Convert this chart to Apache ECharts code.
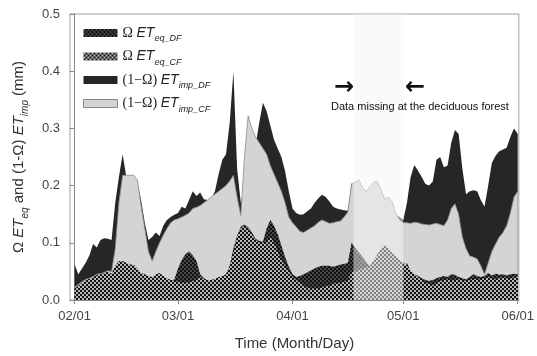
<!DOCTYPE html>
<html>
<head>
<meta charset="utf-8">
<script src="https://cdn.jsdelivr.net/npm/echarts@6/dist/echarts.min.js"></script>
<style>
  html, body { margin: 0; background: #fff; }
  #chart { width: 537px; height: 356px; }
</style>
</head>
<body>
<div id="chart"></div>
<script>
// day index: 0 = 02/01 ... 120 = 06/01
const tickDays = [0, 28, 59, 89, 120];
const tickLabels = ['02/01', '03/01', '04/01', '05/01', '06/01'];
const missingDays = [75.5, 89];   // no deciduous forest data

// Omega*ET_eq, deciduous forest (dark checker)
const eqDF = [0.02,0.024,0.029,0.034,0.036,0.039,0.043,0.044,0.046,0.049,
  0.046,0.058,0.066,0.066,0.063,0.06,0.06,0.054,0.046,0.044,
  0.041,0.039,0.044,0.046,0.041,0.037,0.034,0.036,0.055,0.07,
  0.08,0.085,0.078,0.068,0.045,0.038,0.034,0.034,0.036,0.039,
  0.041,0.044,0.06,0.09,0.112,0.128,0.132,0.127,0.118,0.107,
  0.103,0.102,0.125,0.14,0.13,0.115,0.095,0.075,0.058,0.045,
  0.04,0.042,0.045,0.048,0.052,0.055,0.058,0.06,0.06,0.06,
  0.058,0.06,0.062,0.063,0.065,0.1,0.092,0.083,0.075,0.066,
  0.058,0.055,0.052,0.05,0.048,0.046,0.045,0.043,0.042,0.041,
  0.065,0.05,0.045,0.042,0.038,0.035,0.033,0.035,0.038,0.04,
  0.042,0.04,0.045,0.044,0.04,0.038,0.036,0.04,0.045,0.042,
  0.04,0.042,0.047,0.043,0.046,0.044,0.045,0.043,0.045,0.046,0.045];

// Omega*ET_eq, coniferous forest (light checker)
const eqCF = [0.02,0.025,0.03,0.035,0.037,0.04,0.044,0.045,0.047,0.05,
  0.045,0.06,0.068,0.068,0.065,0.062,0.062,0.055,0.047,0.045,
  0.042,0.04,0.045,0.047,0.042,0.038,0.035,0.033,0.032,0.03,
  0.03,0.031,0.033,0.035,0.04,0.036,0.035,0.035,0.037,0.04,
  0.042,0.045,0.058,0.085,0.11,0.125,0.13,0.125,0.115,0.105,
  0.1,0.1,0.1,0.11,0.1,0.085,0.07,0.06,0.05,0.04,
  0.035,0.03,0.025,0.022,0.02,0.02,0.02,0.022,0.025,0.025,
  0.028,0.03,0.03,0.032,0.035,0.05,0.05,0.052,0.055,0.057,
  0.06,0.07,0.08,0.09,0.096,0.09,0.082,0.076,0.07,0.066,
  0.06,0.052,0.045,0.04,0.035,0.03,0.028,0.026,0.03,0.033,
  0.035,0.036,0.034,0.035,0.036,0.034,0.033,0.035,0.037,0.035,
  0.036,0.038,0.04,0.037,0.036,0.038,0.04,0.038,0.037,0.04,0.04];

// top of the (1-Omega)*ET_imp layer, deciduous forest (black)
const impDFTop = [0.062,0.045,0.055,0.065,0.078,0.098,0.092,0.105,0.108,0.107,
  0.105,0.17,0.215,0.255,0.215,0.21,0.21,0.205,0.175,0.135,
  0.105,0.11,0.118,0.112,0.13,0.14,0.145,0.149,0.152,0.163,
  0.16,0.175,0.19,0.182,0.188,0.176,0.175,0.176,0.19,0.22,
  0.245,0.255,0.31,0.40,0.23,0.17,0.2,0.22,0.245,0.27,
  0.31,0.345,0.33,0.305,0.28,0.265,0.25,0.225,0.19,0.16,
  0.152,0.149,0.15,0.155,0.16,0.17,0.178,0.184,0.18,0.172,
  0.163,0.16,0.158,0.157,0.156,0.204,0.199,0.195,0.19,0.186,
  0.181,0.176,0.172,0.167,0.163,0.158,0.154,0.149,0.145,0.14,
  0.17,0.215,0.236,0.226,0.215,0.203,0.2,0.207,0.245,0.25,
  0.232,0.235,0.275,0.297,0.29,0.23,0.185,0.19,0.192,0.19,
  0.175,0.163,0.2,0.24,0.252,0.26,0.263,0.266,0.285,0.3,0.29];

// top of the (1-Omega)*ET_imp layer, coniferous forest (light grey)
const impCFTop = [0.022,0.027,0.032,0.036,0.038,0.041,0.045,0.046,0.048,0.051,
  0.05,0.09,0.17,0.218,0.218,0.218,0.218,0.21,0.165,0.125,
  0.085,0.068,0.085,0.1,0.113,0.125,0.135,0.14,0.142,0.145,
  0.148,0.152,0.16,0.162,0.165,0.17,0.175,0.18,0.185,0.19,
  0.195,0.2,0.208,0.218,0.18,0.148,0.25,0.322,0.3,0.285,
  0.275,0.265,0.255,0.235,0.22,0.205,0.19,0.17,0.145,0.135,
  0.128,0.12,0.118,0.122,0.126,0.13,0.136,0.14,0.137,0.134,
  0.135,0.137,0.138,0.145,0.154,0.202,0.206,0.21,0.196,0.19,
  0.198,0.206,0.207,0.192,0.176,0.18,0.172,0.15,0.14,0.135,
  0.135,0.134,0.136,0.135,0.133,0.132,0.131,0.133,0.134,0.132,
  0.13,0.14,0.16,0.168,0.15,0.11,0.09,0.077,0.075,0.072,
  0.06,0.045,0.065,0.085,0.098,0.11,0.118,0.13,0.152,0.18,0.19];

function checker(bg, dot) {
  const c = document.createElement('canvas');
  c.width = 4; c.height = 4;
  const ctx = c.getContext('2d');
  ctx.fillStyle = bg; ctx.fillRect(0, 0, 4, 4);
  ctx.fillStyle = dot; ctx.fillRect(0, 0, 2, 2); ctx.fillRect(2, 2, 2, 2);
  return { image: c, repeat: 'repeat' };
}
const darkChecker = checker('#111', '#474747');
const lightChecker = checker('#111', '#b8b8b8');

const pairs = arr => arr.map((v, i) => [i, v]);

function area(name, values, fill, line) {
  return {
    name: name,
    type: 'line',
    data: pairs(values),
    symbol: 'none',
    itemStyle: { color: fill },
    lineStyle: line || { width: 0 },
    areaStyle: { color: fill, opacity: 1 },
    silent: true
  };
}

const legendNames = {
  eqDF: '{o|Ω} {et|ET}{sub|eq_DF}',
  eqCF: '{o|Ω} {et|ET}{sub|eq_CF}',
  impDF: '{o|(1−Ω)} {et|ET}{sub|imp_DF}',
  impCF: '{o|(1−Ω)} {et|ET}{sub|imp_CF}'
};

const chart = echarts.init(document.getElementById('chart'));
chart.setOption({
  animation: false,
  grid: { left: 70, right: 14.5, top: 14, bottom: 56, show: true, borderColor: '#a0a0a0', borderWidth: 1 },
  legend: {
    orient: 'vertical', left: 83, top: 26, padding: 0, itemGap: 6.5,
    itemWidth: 34, itemHeight: 8, icon: 'rect',
    itemStyle: { borderWidth: 0 },
    data: ['eqDF', 'eqCF', 'impDF',
      { name: 'impCF', itemStyle: { borderColor: '#888', borderWidth: 1 } }],
    formatter: n => legendNames[n],
    textStyle: {
      color: '#222', fontFamily: 'Liberation Sans', fontSize: 13,
      rich: {
        o: { fontFamily: 'Liberation Serif', fontSize: 14, lineHeight: 20, color: '#222' },
        et: { fontStyle: 'italic', fontFamily: 'Liberation Sans', fontSize: 14, lineHeight: 20, color: '#222' },
        sub: { fontStyle: 'italic', fontFamily: 'Liberation Sans', fontSize: 9, lineHeight: 12, verticalAlign: 'bottom', color: '#222' }
      }
    }
  },
  xAxis: {
    type: 'value', min: -1.25, max: 120.3,
    name: 'Time (Month/Day)', nameLocation: 'middle', nameGap: 36,
    nameTextStyle: { fontFamily: 'Liberation Sans', fontSize: 15, color: '#333' },
    axisLine: { lineStyle: { color: '#8a8a8a' } },
    axisTick: { length: 4, lineStyle: { color: '#8a8a8a' }, customValues: tickDays },
    axisLabel: {
      customValues: tickDays, margin: 10,
      formatter: v => tickLabels[tickDays.indexOf(Math.round(v))] || '',
      fontFamily: 'Liberation Sans', fontSize: 13, color: '#444'
    },
    splitLine: { show: false }
  },
  yAxis: {
    type: 'value', min: 0, max: 0.5, interval: 0.1,
    name: '{t|Ω }{et|ET}{sub|eq}{t| and (1-Ω) }{et|ET}{sub|imp}{t| (mm)}',
    nameLocation: 'middle', nameGap: 40,
    nameTextStyle: {
      color: '#333',
      rich: {
        t: { fontFamily: 'Liberation Sans', fontSize: 15, lineHeight: 22, color: '#333' },
        et: { fontFamily: 'Liberation Sans', fontStyle: 'italic', fontSize: 15, lineHeight: 22, color: '#333' },
        sub: { fontFamily: 'Liberation Sans', fontStyle: 'italic', fontSize: 10, lineHeight: 13, verticalAlign: 'bottom', color: '#333' }
      }
    },
    axisLine: { show: true, lineStyle: { color: '#8a8a8a' } },
    axisTick: { show: true, length: 5, lineStyle: { color: '#8a8a8a' } },
    axisLabel: { formatter: v => v.toFixed(1), margin: 10, fontFamily: 'Liberation Sans', fontSize: 13, color: '#444' },
    splitLine: { show: false }
  },
  series: [
    area('impDF', impDFTop, '#262626'),
    area('impCF', impCFTop, '#d4d4d4', { width: 0.8, color: '#8a8a8a' }),
    area('eqDF', eqDF, darkChecker),
    area('eqCF', eqCF, lightChecker),
    {
      name: 'missing', type: 'line', data: [], silent: true,
      markArea: {
        z: 10, silent: true,
        itemStyle: { color: 'rgba(246,246,246,0.5)' },
        data: [[{ xAxis: missingDays[0] }, { xAxis: missingDays[1] }]]
      }
    }
  ],
  graphic: [
    { type: 'text', z: 100, left: 334, top: 76, style: { text: '→', font: 'bold 24px DejaVu Sans', fill: '#111' } },
    { type: 'text', z: 100, left: 405, top: 76, style: { text: '←', font: 'bold 24px DejaVu Sans', fill: '#111' } },
    { type: 'text', z: 100, left: 331, top: 101, style: { text: 'Data missing at the deciduous forest', font: '11px Liberation Sans', fill: '#111' } }
  ]
});
</script>
</body>
</html>
